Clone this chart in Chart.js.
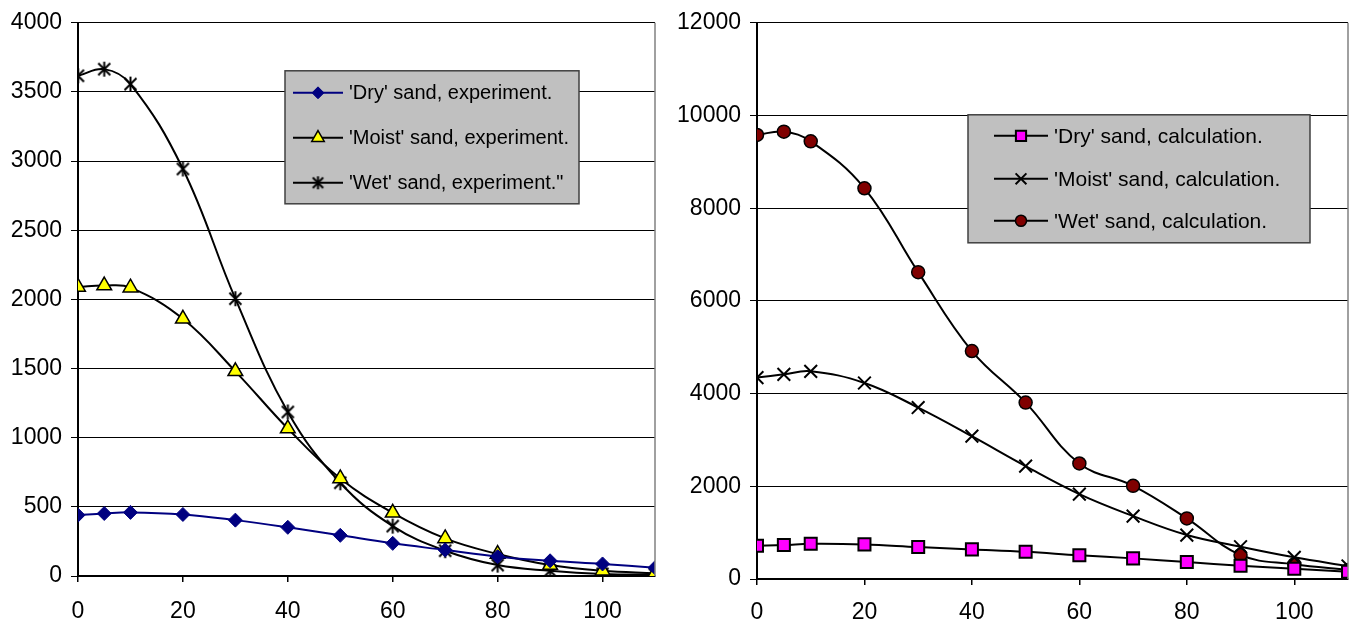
<!DOCTYPE html>
<html>
<head>
<meta charset="utf-8">
<script src="https://cdn.jsdelivr.net/npm/chart.js@4.4.0/dist/chart.umd.min.js"></script>
<style>
  body { margin: 0; background: #fff; }
  #wrap { position: relative; width: 1365px; height: 630px; overflow: hidden; }
  #expChart { position: absolute; left: 0; top: 0; }
  #calcChart { position: absolute; left: 665px; top: 0; }
</style>
</head>
<body>
<div id="wrap">
  <canvas id="expChart" width="680" height="630"></canvas>
  <canvas id="calcChart" width="700" height="630"></canvas>
</div>
<script>
// depth values along the x axis (same for all six series)
const depth = [0, 5, 10, 20, 30, 40, 50, 60, 70, 80, 90, 100, 110];

// left chart - experiment
const dryExp   = [440, 452, 460, 445, 404, 352, 294, 236, 188, 140, 110, 87, 60];
const moistExp = [2090, 2100, 2085, 1860, 1480, 1066, 705, 457, 272, 159, 79, 38, 20];
const wetExp   = [3617, 3665, 3557, 2943, 2005, 1186, 674, 361, 183, 79, 38, 15, 10];

// right chart - calculation
const dryCalc   = [718, 732, 761, 747, 689, 639, 589, 510, 445, 366, 287, 222, 158];
const moistCalc = [4345, 4416, 4481, 4229, 3699, 3081, 2434, 1831, 1357, 948, 696, 467, 280];
const wetCalc   = [9580, 9651, 9442, 8430, 6620, 4918, 3806, 2492, 2010, 1307, 517, 316, 194];

const expLabels  = ["'Dry' sand, experiment.", "'Moist' sand, experiment.", "'Wet' sand, experiment.\""];
const calcLabels = ["'Dry' sand, calculation.", "'Moist' sand, calculation.", "'Wet' sand, calculation."];

const xTickStep = 20;
const FONT = "'Liberation Sans', Arial, sans-serif";

function toPoints(values) {
  return values.map((v, i) => ({ x: depth[i], y: v }));
}

// Excel style asterisk marker: an X with a vertical bar
function makeAsterisk(size, lw) {
  const c = document.createElement('canvas');
  c.width = size;
  c.height = size;
  const g = c.getContext('2d');
  const m = size / 2, r = size / 2 - 1, d = r * 0.8;
  g.strokeStyle = '#000';
  g.lineWidth = lw;
  g.beginPath();
  g.moveTo(m, m - r); g.lineTo(m, m + r);
  g.moveTo(m - d, m - d); g.lineTo(m + d, m + d);
  g.moveTo(m + d, m - d); g.lineTo(m - d, m + d);
  g.stroke();
  return c;
}
const asterisk = makeAsterisk(17, 2);
const asteriskSmall = makeAsterisk(15, 2);

// legend drawn as a grey box inside the plot area, like the original
const boxLegend = {
  id: 'boxLegend',
  afterDraw(chart, args, opts) {
    const ctx = chart.ctx;
    const area = chart.chartArea;
    const bx = area.left + opts.left, by = area.top + opts.top;
    ctx.save();
    ctx.fillStyle = '#c0c0c0';
    ctx.fillRect(bx, by, opts.width, opts.height);
    ctx.strokeStyle = '#404040';
    ctx.lineWidth = 1.5;
    ctx.strokeRect(bx, by, opts.width, opts.height);
    chart.data.datasets.forEach((ds, i) => {
      const y = by + opts.rows[i];
      ctx.strokeStyle = ds.borderColor;
      ctx.lineWidth = 2;
      ctx.beginPath();
      ctx.moveTo(bx + opts.lineX0, y);
      ctx.lineTo(bx + opts.lineX1, y);
      ctx.stroke();
      ctx.fillStyle = ds.pointBackgroundColor;
      ctx.strokeStyle = ds.pointBorderColor;
      ctx.lineWidth = ds.pointBorderWidth;
      Chart.helpers.drawPoint(ctx, {
        pointStyle: ds.legendPointStyle || ds.pointStyle,
        radius: ds.pointRadius * 0.85,
        rotation: 0,
        borderWidth: ds.pointBorderWidth
      }, bx + (opts.lineX0 + opts.lineX1) / 2, y);
      ctx.fillStyle = '#000';
      ctx.font = opts.fontSize + 'px ' + FONT;
      ctx.textBaseline = 'middle';
      ctx.textAlign = 'left';
      ctx.fillText(ds.label, bx + opts.textX, y + 1);
    });
    ctx.restore();
  }
};

// grey right edge of the plot area
const plotFrame = {
  id: 'plotFrame',
  afterDatasetsDraw(chart) {
    const ctx = chart.ctx;
    const a = chart.chartArea;
    ctx.save();
    ctx.strokeStyle = '#808080';
    ctx.lineWidth = 1.5;
    ctx.beginPath();
    ctx.moveTo(a.right, a.top);
    ctx.lineTo(a.right, a.bottom);
    ctx.stroke();
    ctx.restore();
  }
};

function makeOptions(yMax, yStep, yWidth, xHeight, xPad, pad, legend) {
  return {
    responsive: false,
    animation: false,
    layout: { padding: pad },
    elements: { line: { tension: 0.4, borderWidth: 2 } },
    plugins: {
      legend: { display: false },
      tooltip: { enabled: false },
      boxLegend: legend
    },
    scales: {
      x: {
        type: 'linear',
        min: 0,
        max: 110,
        afterFit: s => { s.height = xHeight; },
        ticks: {
          stepSize: xTickStep, includeBounds: false, color: '#000', padding: xPad,
          font: { family: FONT, size: 23 },
          callback: v => String(v)
        },
        grid: { drawOnChartArea: false, tickLength: 6, color: '#000', lineWidth: 1.5 },
        border: { color: '#000', width: 2 }
      },
      y: {
        min: 0,
        max: yMax,
        afterFit: s => { s.width = yWidth; },
        ticks: {
          stepSize: yStep, color: '#000', padding: 9,
          font: { family: FONT, size: 23 },
          callback: v => String(v)
        },
        grid: { color: '#000', lineWidth: 1, tickLength: 7 },
        border: { color: '#000', width: 2 }
      }
    }
  };
}

new Chart(document.getElementById('expChart'), {
  type: 'line',
  data: {
    datasets: [{
      label: expLabels[0],
      data: toPoints(dryExp),
      borderColor: '#000080',
      pointStyle: 'rectRot',
      pointRadius: 7,
      pointBackgroundColor: '#000080',
      pointBorderColor: '#000080',
      pointBorderWidth: 1
    }, {
      label: expLabels[1],
      data: toPoints(moistExp),
      borderColor: '#000',
      pointStyle: 'triangle',
      pointRadius: 8.5,
      pointBackgroundColor: '#ffff00',
      pointBorderColor: '#000',
      pointBorderWidth: 1.5
    }, {
      label: expLabels[2],
      data: toPoints(wetExp),
      borderColor: '#000',
      pointStyle: asterisk,
      legendPointStyle: asteriskSmall,
      pointRadius: 8,
      pointBackgroundColor: '#000',
      pointBorderColor: '#000',
      pointBorderWidth: 2
    }]
  },
  options: makeOptions(4000, 500, 78, 54, 16, { top: 22, right: 25, left: 0, bottom: 0 }, {
    left: 207, top: 48, width: 294, height: 133,
    rows: [22, 67, 112], lineX0: 8, lineX1: 58, textX: 64, fontSize: 20
  }),
  plugins: [plotFrame, boxLegend]
});

new Chart(document.getElementById('calcChart'), {
  type: 'line',
  data: {
    datasets: [{
      label: calcLabels[0],
      data: toPoints(dryCalc),
      borderColor: '#000',
      pointStyle: 'rect',
      pointRadius: 8.5,
      pointBackgroundColor: '#ff00ff',
      pointBorderColor: '#000',
      pointBorderWidth: 2
    }, {
      label: calcLabels[1],
      data: toPoints(moistCalc),
      borderColor: '#000',
      pointStyle: 'crossRot',
      pointRadius: 9,
      pointBackgroundColor: '#000',
      pointBorderColor: '#000',
      pointBorderWidth: 2
    }, {
      label: calcLabels[2],
      data: toPoints(wetCalc),
      borderColor: '#000',
      pointStyle: 'circle',
      pointRadius: 6.5,
      pointBackgroundColor: '#800000',
      pointBorderColor: '#000',
      pointBorderWidth: 1.5
    }]
  },
  options: makeOptions(12000, 2000, 92, 51, 14, { top: 22, right: 17, left: 0, bottom: 0 }, {
    left: 211, top: 92, width: 342, height: 128,
    rows: [21, 64, 106], lineX0: 26, lineX1: 80, textX: 86, fontSize: 21
  }),
  plugins: [plotFrame, boxLegend]
});
</script>
</body>
</html>
